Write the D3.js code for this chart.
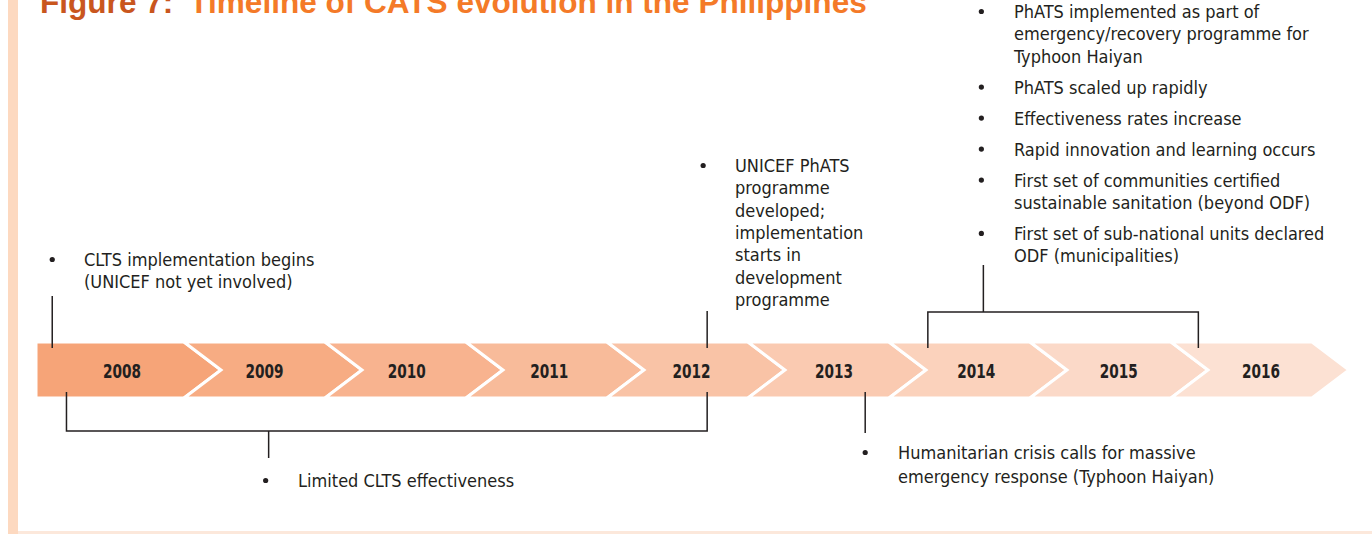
<!DOCTYPE html>
<html lang="en">
<head>
<meta charset="utf-8">
<title>Timeline of CATS evolution</title>
<script src="https://d3js.org/d3.v7.min.js"></script>
<style>
  body { margin: 0; background: #fff; }
  svg { display: block; }
</style>
</head>
<body>
<div id="chart"></div>
<script>
// years along the arrow
var years = [2008, 2009, 2010, 2011, 2012, 2013, 2014, 2015, 2016];

// event notes (anchor = position on the time axis, in years)
var clts = ["CLTS implementation begins", "(UNICEF not yet involved)"];
var limited = ["Limited CLTS effectiveness"];
var phats = ["UNICEF PhATS", "programme", "developed;", "implementation", "starts in", "development", "programme"];
var haiyan = ["Humanitarian crisis calls for massive", "emergency response (Typhoon Haiyan)"];
var scaleUp = [
  ["PhATS implemented as part of", "emergency/recovery programme for", "Typhoon Haiyan"],
  ["PhATS scaled up rapidly"],
  ["Effectiveness rates increase"],
  ["Rapid innovation and learning occurs"],
  ["First set of communities certified", "sustainable sanitation (beyond ODF)"],
  ["First set of sub-national units declared", "ODF (municipalities)"]
];
// anchors in year units
var cltsAt = 2007.51, limitedFrom = 2007.61, limitedTo = 2012.11, limitedMid = 2009.03;
var phatsAt = 2012.11, haiyanAt = 2013.22;
var scaleFrom = 2013.66, scaleTo = 2015.56, scaleMid = 2014.05;

var W = 1372, H = 534;
var ink = "#231f20";
var bodyFont = "'Liberation Sans Narrow', 'Arial Narrow', 'DejaVu Sans Condensed', sans-serif";

var svg = d3.select("#chart").append("svg")
  .attr("width", W).attr("height", H);

// frame: pale bar on the left and rule at the bottom
svg.append("rect").attr("x", 8).attr("y", 0).attr("width", 10).attr("height", H).attr("fill", "#fdd9c0");
svg.append("rect").attr("x", 18).attr("y", 531).attr("width", W - 18).attr("height", 3).attr("fill", "#fce8db");

// title (cut at the top as in the page)
var title = svg.append("text")
  .attr("x", 40).attr("y", 13)
  .style("font-family", "'Liberation Sans', Arial, sans-serif")
  .style("font-weight", "bold")
  .style("font-size", "30px");
title.append("tspan").attr("fill", "#c9561e").text("Figure 7:");
title.append("tspan").attr("fill", "#f47a28").attr("dx", 16).text("Timeline of CATS evolution in the Philippines");
var tw = title.node().getBBox().width;
title.style("font-size", (30 * 828 / tw) + "px");

// scales
var x = d3.scaleLinear().domain([2008, 2016]).range([122, 1261]);   // time axis (label centres)
var tip = d3.scaleLinear().domain([2008, 2016]).range([221, 1349]);  // chevron tips
var depth = 37, bandTop = 342, bandBot = 398, mid = (bandTop + bandBot) / 2;
var color = d3.scaleLinear().domain([2008, 2016]).range(["#f6a478", "#fce1d3"]).interpolate(d3.interpolateRgb);

// chevron band
var band = svg.append("g");
band.selectAll("path").data(years).enter().append("path")
  .attr("d", function(d, i) {
    var r = tip(d);
    if (i === 0) {
      return "M36," + bandTop + "L" + (r - depth) + "," + bandTop + "L" + r + "," + mid +
        "L" + (r - depth) + "," + bandBot + "L36," + bandBot + "Z";
    }
    var l = tip(d - 1);
    return "M" + (l - depth) + "," + bandTop + "L" + (r - depth) + "," + bandTop + "L" + r + "," + mid +
      "L" + (r - depth) + "," + bandBot + "L" + (l - depth) + "," + bandBot + "L" + l + "," + mid + "Z";
  })
  .attr("fill", function(d) { return color(d); })
  .attr("stroke", "#fff")
  .attr("stroke-width", 3)
  .attr("stroke-linejoin", "miter");

band.selectAll("text").data(years).enter().append("text")
  .attr("x", function(d) { return x(d); })
  .attr("y", mid + 8)
  .attr("text-anchor", "middle")
  .attr("fill", ink)
  .attr("textLength", 38)
  .attr("lengthAdjust", "spacingAndGlyphs")
  .style("font-family", bodyFont)
  .style("font-weight", "bold")
  .style("font-size", "20px")
  .text(function(d) { return d; });

// connectors
var lines = svg.append("g").attr("fill", "none").attr("stroke", ink).attr("stroke-width", 1.5);
function seg(pts) {
  lines.append("path").attr("d", d3.line()(pts));
}
// 2008 start
seg([[x(cltsAt), 296], [x(cltsAt), 348]]);
// limited effectiveness bracket under 2008-2012
seg([[x(limitedFrom), 392], [x(limitedFrom), 431], [x(limitedTo), 431], [x(limitedTo), 392]]);
seg([[x(limitedMid), 431], [x(limitedMid), 458]]);
// PhATS developed
seg([[x(phatsAt), 311], [x(phatsAt), 348]]);
// Haiyan
seg([[x(haiyanAt), 392], [x(haiyanAt), 433]]);
// scale-up bracket above 2014-2015
seg([[x(scaleFrom), 348], [x(scaleFrom), 312], [x(scaleTo), 312], [x(scaleTo), 348]]);
seg([[x(scaleMid), 312], [x(scaleMid), 265]]);

// bullet notes
function note(cx, textX, baseline, rows, lh) {
  var g = svg.append("g");
  g.append("circle").attr("cx", cx).attr("cy", baseline - 6.5).attr("r", 2.6).attr("fill", ink);
  g.append("text")
    .attr("fill", ink)
    .style("font-family", bodyFont)
    .style("font-size", "18px")
    .selectAll("tspan").data(rows).enter().append("tspan")
    .attr("x", textX)
    .attr("y", function(d, i) { return baseline + i * lh; })
    .text(function(d) { return d; });
}

note(x(cltsAt), 84, 266, clts, 22);
note(x(limitedMid) - 3, 298, 487, limited, 22);
note(x(phatsAt) - 4, 735, 172, phats, 22.3);
note(x(haiyanAt), 898, 459, haiyan, 24);

var b = 18;
scaleUp.forEach(function(rows) {
  note(x(scaleMid) - 2, 1014, b, rows, 22.3);
  b += rows.length * 22.3 + 8.7;
});
</script>
</body>
</html>
